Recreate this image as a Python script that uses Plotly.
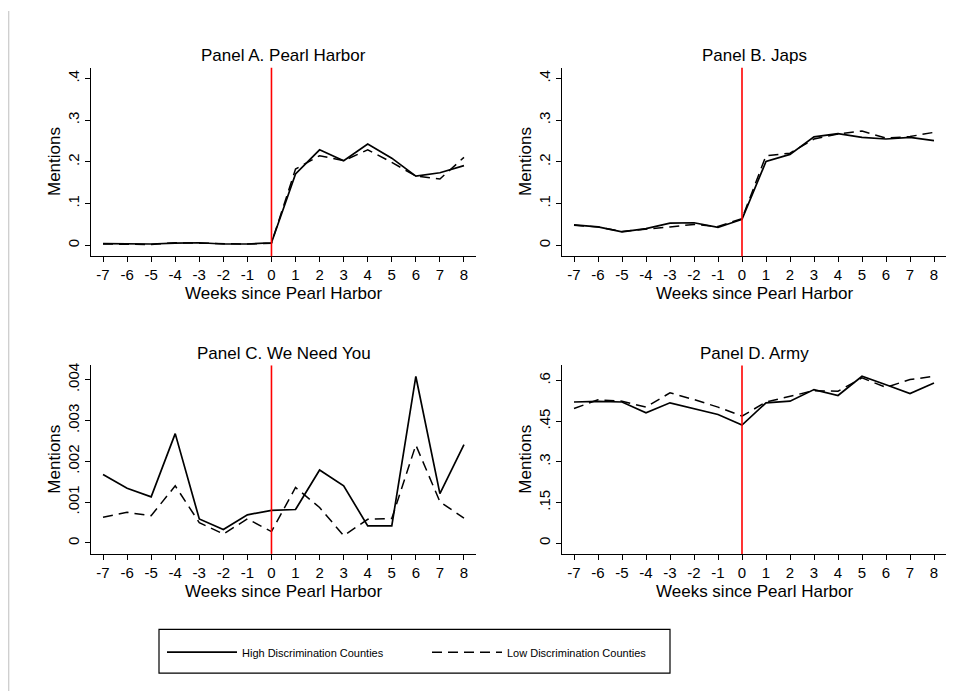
import plotly.graph_objects as go

# weeks relative to Pearl Harbor
weeks = list(range(-7, 9))
week_labels = [str(w) for w in weeks]

# Panel A. Pearl Harbor
pearl_high = [0.004, 0.003, 0.003, 0.005, 0.006, 0.003, 0.003, 0.006,
              0.171, 0.229, 0.203, 0.243, 0.209, 0.166, 0.174, 0.191]
pearl_low = [0.003, 0.003, 0.002, 0.006, 0.005, 0.003, 0.003, 0.005,
             0.183, 0.215, 0.203, 0.229, 0.199, 0.166, 0.159, 0.211]

# Panel B. Japs
japs_high = [0.049, 0.044, 0.032, 0.040, 0.053, 0.054, 0.043, 0.062,
             0.201, 0.218, 0.260, 0.268, 0.259, 0.255, 0.259, 0.251]
japs_low = [0.048, 0.044, 0.033, 0.038, 0.044, 0.050, 0.045, 0.064,
            0.215, 0.221, 0.255, 0.267, 0.274, 0.257, 0.261, 0.271]

# Panel C. We Need You
need_high = [0.00168, 0.00134, 0.00113, 0.00268, 0.00059, 0.00033, 0.00069, 0.00080,
             0.00082, 0.00179, 0.00140, 0.00042, 0.00042, 0.00408, 0.00121, 0.00241]
need_low = [0.00063, 0.00075, 0.00067, 0.00140, 0.00050, 0.00022, 0.00059, 0.00028,
            0.00136, 0.00087, 0.00018, 0.00058, 0.00060, 0.00240, 0.00101, 0.00061]

# Panel D. Army
army_high = [0.521, 0.523, 0.521, 0.481, 0.518, 0.497, 0.475, 0.436,
             0.518, 0.524, 0.567, 0.545, 0.616, 0.585, 0.552, 0.591]
army_low = [0.497, 0.529, 0.524, 0.502, 0.555, 0.530, 0.502, 0.469,
            0.521, 0.542, 0.563, 0.561, 0.610, 0.575, 0.604, 0.616]

panel_titles = ["Panel A. Pearl Harbor", "Panel B. Japs",
                "Panel C. We Need You", "Panel D. Army"]
series_high = [pearl_high, japs_high, need_high, army_high]
series_low = [pearl_low, japs_low, need_low, army_low]

ytick_vals = [[0, 0.1, 0.2, 0.3, 0.4], [0, 0.1, 0.2, 0.3, 0.4],
              [0, 0.001, 0.002, 0.003, 0.004], [0, 0.15, 0.3, 0.45, 0.6]]
ytick_text = [["0", ".1", ".2", ".3", ".4"], ["0", ".1", ".2", ".3", ".4"],
              ["0", ".001", ".002", ".003", ".004"], ["0", ".15", ".3", ".45", ".6"]]
y_ranges = [[-0.0263, 0.426], [-0.0263, 0.426],
            [-0.000268, 0.00435], [-0.040, 0.656]]

W, H = 969, 691
OFF = 8  # page body margin in the browser
FONT = "Liberation Sans, Arial, sans-serif"


def px(x):
    return (x - OFF) / W


def py(y):
    return 1 - (y - OFF) / H


# pixel boxes of each plot area in the page: (left, right, top, bottom)
boxes = [(91, 476, 65, 254.3), (562, 946, 65, 254.3),
         (91, 476, 364, 553.3), (562, 946, 364, 553.3)]

fig = go.Figure()
annotations = []
shapes = []

for i in range(4):
    l, r, t, b = boxes[i]
    n = "" if i == 0 else str(i + 1)
    xa, ya = "x" + n, "y" + n
    fig.add_trace(go.Scatter(x=weeks, y=series_high[i], mode="lines",
                             name="High Discrimination Counties",
                             line=dict(color="black", width=1.7),
                             xaxis=xa, yaxis=ya, showlegend=(i == 0)))
    fig.add_trace(go.Scatter(x=weeks, y=series_low[i], mode="lines",
                             name="Low Discrimination Counties",
                             line=dict(color="black", width=1.5, dash="10px,6px"),
                             xaxis=xa, yaxis=ya, showlegend=(i == 0)))

    axis_common = dict(showline=True, linecolor="black", linewidth=1.2,
                       ticks="outside", ticklen=5, tickwidth=1.2, tickcolor="black",
                       showgrid=False, zeroline=False,
                       tickfont=dict(family=FONT, size=15, color="black"))
    fig.update_layout(**{
        "xaxis" + n: dict(domain=[px(l), px(r)], range=[-7.5, 8.5],
                          tickvals=weeks, ticktext=week_labels,
                          anchor=ya, **axis_common),
        "yaxis" + n: dict(domain=[py(b), py(t)], range=y_ranges[i],
                          tickvals=ytick_vals[i], ticktext=ytick_text[i],
                          tickangle=-90, anchor=xa, **axis_common),
    })

    # red reference line at week 0
    shapes.append(dict(type="line", xref=xa, yref=ya + " domain",
                       x0=0, x1=0, y0=0, y1=1,
                       line=dict(color="red", width=1.6)))

    cx = px((l + r) / 2)
    annotations.append(dict(text=panel_titles[i], x=cx, y=py(t - 12),
                            xref="paper", yref="paper", showarrow=False,
                            xanchor="center", yanchor="middle",
                            font=dict(family=FONT, size=17, color="black")))
    annotations.append(dict(text="Weeks since Pearl Harbor", x=cx, y=py(b + 37.5),
                            xref="paper", yref="paper", showarrow=False,
                            xanchor="center", yanchor="middle",
                            font=dict(family=FONT, size=17, color="black")))
    annotations.append(dict(text="Mentions", x=px(l - 36), y=py((t + b) / 2),
                            xref="paper", yref="paper", showarrow=False, textangle=-90,
                            xanchor="center", yanchor="middle",
                            font=dict(family=FONT, size=17, color="black")))

# legend box and faint left page edge
shapes.append(dict(type="rect", xref="paper", yref="paper",
                   x0=px(159), x1=px(670), y0=py(673), y1=py(629),
                   line=dict(color="black", width=1.2), fillcolor="rgba(0,0,0,0)"))
shapes.append(dict(type="line", xref="paper", yref="paper",
                   x0=0.6 / W, x1=0.6 / W, y0=0, y1=1,
                   line=dict(color="#cfcfcf", width=1.5)))

fig.update_layout(
    width=W, height=H,
    margin=dict(l=0, r=0, t=0, b=0),
    paper_bgcolor="white", plot_bgcolor="white",
    annotations=annotations, shapes=shapes,
    showlegend=True,
    legend=dict(orientation="h", x=px(162), y=py(652),
                xanchor="left", yanchor="middle",
                itemwidth=70, entrywidth=180, entrywidthmode="pixels",
                bgcolor="rgba(0,0,0,0)", borderwidth=0,
                font=dict(family=FONT, size=11, color="black")),
)

fig.write_html("out.html")
